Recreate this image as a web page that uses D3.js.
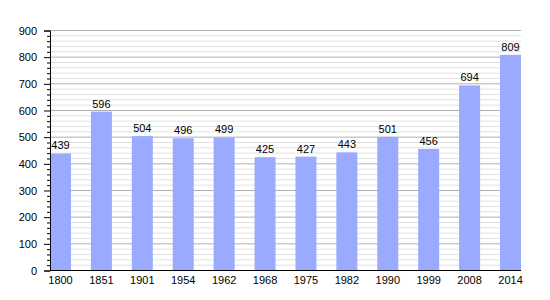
<!DOCTYPE html>
<html>
<head>
<meta charset="utf-8">
<script src="https://cdn.jsdelivr.net/npm/d3@7"></script>
<style>
  body { margin: 0; background: #fff; }
  text { font-family: "Liberation Sans", Arial, sans-serif; font-size: 11px; fill: #000; }
</style>
</head>
<body>
<div id="chart"></div>
<script>
var width = 550;
var height = 300;

var years = ["1800", "1851", "1901", "1954", "1962", "1968", "1975", "1982", "1990", "1999", "2008", "2014"];
var population = [439, 596, 504, 496, 499, 425, 427, 443, 501, 456, 694, 809];
var yTicks = [0, 100, 200, 300, 400, 500, 600, 700, 800, 900];

var svg = d3.select("#chart")
    .append("svg")
    .attr("width", width)
    .attr("height", height);

// scales
var xScale = d3.scaleBand().domain(years).range([50, 521]).paddingInner(0.487).paddingOuter(0);
var yScale = d3.scaleLinear().domain([0, 900]).range([270.5, 30.5]);

// minor grid every 20
var minor = d3.range(20, 901, 20).filter(function(v) { return v % 100 != 0; });
svg.selectAll(".minor")
    .data(minor)
    .enter()
    .append("line")
    .attr("x1", 50).attr("x2", 521)
    .attr("y1", function(d) { return yScale(d); })
    .attr("y2", function(d) { return yScale(d); })
    .attr("stroke", "#e2e2e2");

// major grid every 100
svg.selectAll(".major")
    .data(yTicks.slice(1))
    .enter()
    .append("line")
    .attr("x1", 50).attr("x2", 521)
    .attr("y1", function(d) { return yScale(d); })
    .attr("y2", function(d) { return yScale(d); })
    .attr("stroke", "#b0b0b0");

// bars
svg.selectAll("rect")
    .data(population)
    .enter()
    .append("rect")
    .attr("x", function(d, i) { return xScale(years[i]); })
    .attr("y", function(d) { return yScale(d); })
    .attr("width", xScale.bandwidth())
    .attr("height", function(d) { return yScale(0) - yScale(d); })
    .attr("fill", "#99aaff");

// value labels
svg.selectAll(".val")
    .data(population)
    .enter()
    .append("text")
    .attr("x", function(d, i) { return xScale(years[i]) + xScale.bandwidth() / 2; })
    .attr("y", function(d) { return yScale(d) - 4; })
    .attr("text-anchor", "middle")
    .text(function(d) { return d; });

// y axis minor ticks
var minorAxis = d3.axisLeft(yScale).tickValues(minor).tickSize(3).tickFormat("");
svg.append("g")
    .attr("transform", "translate(50,0)")
    .call(minorAxis)
    .call(function(g) { g.select(".domain").remove(); });

var yAxis = d3.axisLeft(yScale).tickValues(yTicks).tickSize(6).tickPadding(7);
svg.append("g")
    .attr("transform", "translate(50,0)")
    .call(yAxis)
    .call(function(g) { g.selectAll("text").style("font-size", "11px").style("font-family", null); g.attr("font-family", null).attr("font-size", null); });

var xAxis = d3.axisBottom(xScale).tickSize(0).tickPadding(6);
svg.append("g")
    .attr("transform", "translate(0,270.5)")
    .call(xAxis)
    .call(function(g) { g.attr("font-family", null).attr("font-size", null); g.select(".domain").attr("d", "M50,0H521"); });
</script>
</body>
</html>
